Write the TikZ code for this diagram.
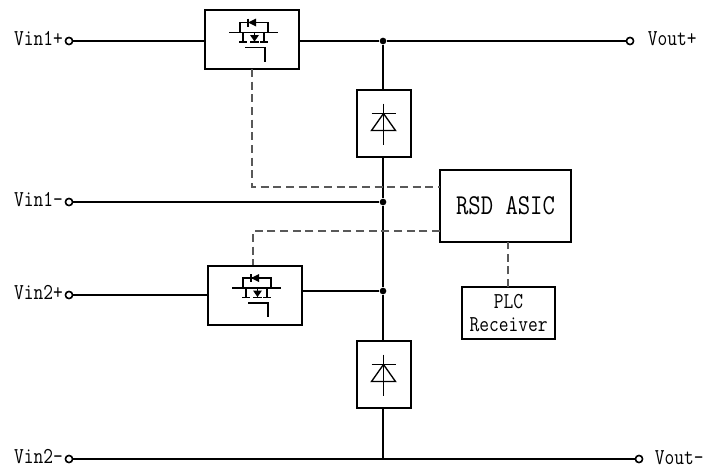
\documentclass[tikz,border=0pt]{standalone}
\usepackage{graphicx}
\newcommand{\tallt}[1]{\scalebox{1}[1.2]{#1}}
\tikzset{
  box/.style={draw,line width=1.5pt,inner sep=0pt,outer sep=0pt,align=center,font=\ttfamily},
  wire/.style={line width=1.5pt},
  thin wire/.style={line width=0.8pt},
  ctrl/.style={line width=1.2pt,color=black!65,dash pattern=on 6pt off 3.5pt},
  terminal/.style={circle,draw,line width=1.1pt,fill=white,inner sep=0pt,minimum size=5.25pt},
  junction/.style={circle,fill,inner sep=0pt,minimum size=5pt},
  termtext/.style={inner sep=0pt,font=\fontsize{14.2}{15}\selectfont\ttfamily},
  pics/mossym/.style={code={
    \draw[thin wire] (-12,-7) -- (-12,-17) -- (16,-17) -- (16,-7);
    \draw[thin wire] (-23,-7) -- (26,-7);
    \draw[thin wire] (-9,-7) -- (-9,2.5);
    \draw[thin wire] (-13,2.5) -- (-5,2.5);
    \draw[thin wire] (2.5,-7) -- (2.5,2.5);
    \draw[thin wire] (-2,2.5) -- (7,2.5);
    \draw[thin wire] (12,-7) -- (12,2.5);
    \draw[thin wire] (8,2.5) -- (16,2.5);
    \fill (-2,-4.5) -- (7,-4.5) -- (2.5,2) -- cycle;
    \fill (-4,-17) -- (4,-21) -- (4,-13) -- cycle;
    \draw[thin wire] (-4,-21) -- (-4,-13);
    \draw[thin wire] (-7,8) -- (13,8) -- (13,22);
  }},
  pics/diodesym/.style={code={
    \draw[thin wire] (0,-20) -- (0,21);
    \draw[thin wire] (-12,-10) -- (12,-10);
    \draw[line width=1pt] (0,-10) -- (12,7) -- (-12,7) -- cycle;
  }}
}
\begin{document}
\begin{tikzpicture}[x=0.75pt,y=-0.75pt]
\useasboundingbox (0,0) rectangle (706,468);
% blocks
\node[box,minimum width=70.5pt,minimum height=44.25pt] (mosa) at (252,39.5) {};
\node[box,minimum width=70.5pt,minimum height=44.25pt] (mosb) at (255,295) {};
\node[box,minimum width=40.5pt,minimum height=50.25pt] (diodea) at (384,123.5) {};
\node[box,minimum width=40.5pt,minimum height=50.25pt] (diodeb) at (384,374.5) {};
\node[box,minimum width=98.25pt,minimum height=54pt,font=\fontsize{18}{20}\selectfont\ttfamily] (asic) at (505.5,206) {\tallt{RSD ASIC}};
\node[box,minimum width=69.75pt,minimum height=39pt,font=\fontsize{14.2}{17.5}\selectfont\ttfamily] (plc) at (508.5,313) {\tallt{PLC}\\\tallt{Receiver}};
\pic at (mosa) {mossym};
\pic at (mosb) {mossym};
\pic at (383.5,123.5) {diodesym};
\pic at (383.5,374.5) {diodesym};
% terminals
\foreach \nm/\y in {vinap/41,vinam/202,vinbp/295,vinbm/459}
  \node[terminal] (\nm) at (69,\y) {};
\foreach \nm/\txt in {vinap/Vin1+,vinam/Vin1-,vinbp/Vin2+,vinbm/Vin2-}
  \node[termtext,anchor=east] (\nm t) at ([xshift=-1.2pt,yshift=1.5pt]\nm.west) {\tallt{\txt}};
\node[terminal] (voutp) at (630,41) {};
\node[terminal] (voutm) at (639,459) {};
\node[termtext,anchor=west] (voutpt) at ([xshift=10pt,yshift=1.5pt]voutp.east) {\tallt{Vout+}};
\node[termtext,anchor=west] (voutmt) at ([xshift=8.5pt,yshift=1pt]voutm.east) {\tallt{Vout-}};
% junctions
\node[junction] (ja) at (383,41) {};
\node[junction] (jb) at (383,202) {};
\node[junction] (jc) at (383,291) {};
\coordinate (jd) at (383,459);
% power wires
\draw[wire] (vinap) -- (vinap -| mosa.west);
\draw[wire] (ja -| mosa.east) -- (ja) -- (voutp);
\draw[wire] (vinam) -- (jb);
\draw[wire] (vinbp) -- (vinbp -| mosb.west);
\draw[wire] (jc -| mosb.east) -- (jc);
\draw[wire] (vinbm) -- (voutm);
\draw[wire] (ja) -- (ja |- diodea.north);
\draw[wire] (ja |- diodea.south) -- (jb) -- (jc) -- (jc |- diodeb.north);
\draw[wire] (jc |- diodeb.south) -- (jd);
% control wires
\coordinate (ctrla) at (440,187);
\coordinate (ctrlb) at (440,231);
\coordinate (ctrlc) at (253,265);
\coordinate (ctrld) at (508,287);
\draw[ctrl] (mosa.south) |- (ctrla);
\draw[ctrl] (ctrlb) -| (ctrlc);
\draw[ctrl] (ctrld) -- (ctrld |- asic.south);
% terminals stay on top of the wires
\foreach \nm in {vinap,vinam,vinbp,vinbm,voutp,voutm}
  \node[terminal] at (\nm) {};
\end{tikzpicture}
\end{document}
